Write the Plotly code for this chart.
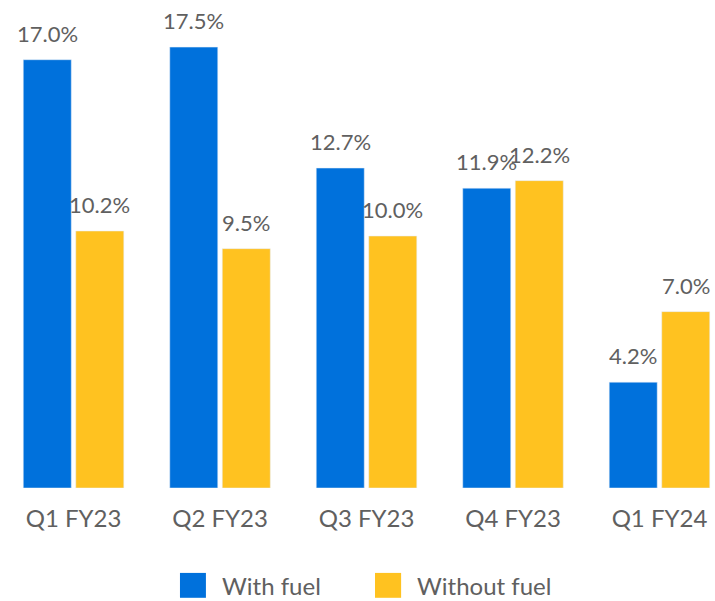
import plotly.graph_objects as go

# Quarterly values
quarters = ["Q1 FY23", "Q2 FY23", "Q3 FY23", "Q4 FY23", "Q1 FY24"]
with_fuel = [17.0, 17.5, 12.7, 11.9, 4.2]
without_fuel = [10.2, 9.5, 10.0, 12.2, 7.0]

BLUE = "#0071DC"
YELLOW = "#FFC220"
GREY = "#606060"
FONT = "Lato"
FSIZE = 24

fig = go.Figure()

series = [("With fuel", with_fuel, BLUE, -26.25), ("Without fuel", without_fuel, YELLOW, 26.25)]

for name, vals, col, dx in series:
    fig.add_trace(go.Bar(x=quarters, y=vals, name=name, marker_color=col, showlegend=False))
    # value labels above each bar
    for q, v in zip(quarters, vals):
        fig.add_annotation(
            x=q, y=v, text=f"{v:.1f}%", showarrow=False,
            xshift=dx, yanchor="bottom", yshift=12, borderpad=0,
            font=dict(size=22, color=GREY, family=FONT),
        )

# legend drawn by hand so the swatches can be the big squares of the original
legend_pos = [(0.2517, 0.288, 0.3077), (0.5245, 0.561, 0.5804)]
for (name, vals, col, dx), (x0, x1, xt) in zip(series, legend_pos):
    fig.add_shape(type="rect", xref="paper", yref="paper",
                  x0=x0, x1=x1, y0=-0.225, y1=-0.174,
                  fillcolor=col, line_width=0)
    fig.add_annotation(
        xref="paper", yref="paper", x=xt, y=-0.199, text=name,
        showarrow=False, xanchor="left", yanchor="middle",
        font=dict(size=FSIZE, color=GREY, family=FONT),
    )

fig.update_layout(
    width=715, height=601,
    margin=dict(l=0, r=0, t=0, b=113),
    plot_bgcolor="white", paper_bgcolor="white",
    font=dict(family=FONT, color=GREY, size=FSIZE),
    barmode="group", bargap=0.283, bargroupgap=0.086,
    showlegend=False,
    xaxis=dict(
        range=[-0.502, 4.379], showgrid=False, zeroline=False, showline=False,
        ticks="outside", ticklen=9, tickcolor="rgba(0,0,0,0)",
        tickfont=dict(size=FSIZE, color=GREY, family=FONT),
    ),
    yaxis=dict(range=[0, 19.37], visible=False, showgrid=False, zeroline=False),
)

fig.write_html("out.html", config={"displayModeBar": False},
               post_script="document.body.style.margin='0px';")
